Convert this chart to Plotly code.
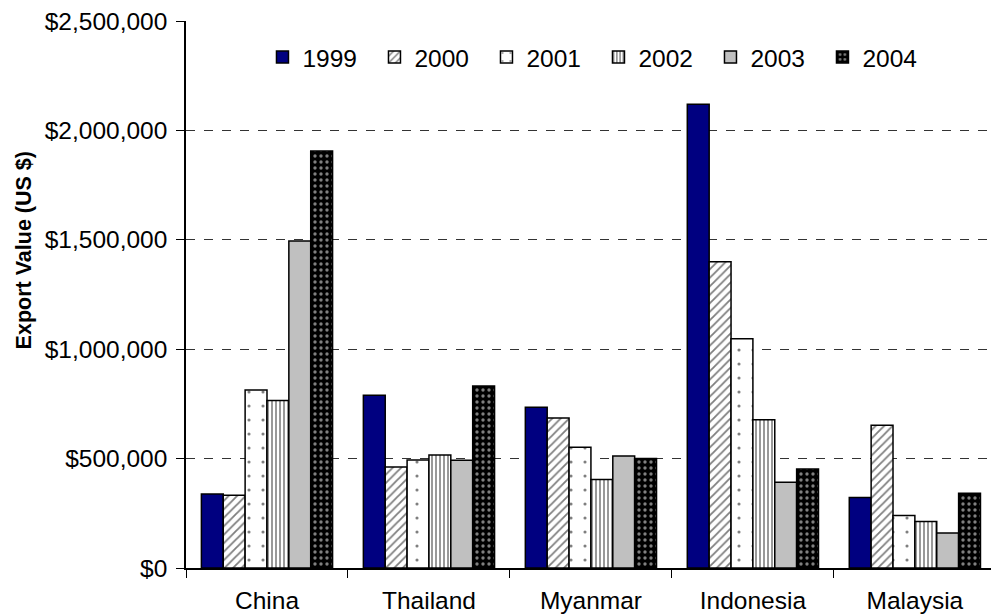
import plotly.graph_objects as go

countries = ["China", "Thailand", "Myanmar", "Indonesia", "Malaysia"]
years = ["1999", "2000", "2001", "2002", "2003", "2004"]
v1999 = [338000, 790000, 735000, 2120000, 322000]
v2000 = [333000, 462000, 685000, 1400000, 652000]
v2001 = [813000, 494000, 552000, 1048000, 240000]
v2002 = [765000, 516000, 405000, 678000, 213000]
v2003 = [1494000, 493000, 512000, 392000, 160000]
v2004 = [1906000, 832000, 500000, 452000, 342000]
series = [v1999, v2000, v2001, v2002, v2003, v2004]
y_title = "Export Value (US $)"

styles = [
    dict(color="#000080"),
    dict(color="white", pattern=dict(shape="/", fgcolor="black", bgcolor="white", size=6, solidity=0.3)),
    dict(color="white", pattern=dict(shape=".", fgcolor="black", bgcolor="white", size=14, solidity=0.04)),
    dict(color="white", pattern=dict(shape="|", fgcolor="black", bgcolor="white", size=4, solidity=0.4)),
    dict(color="#C0C0C0"),
    dict(color="black", pattern=dict(shape=".", fgcolor="white", bgcolor="black", size=6, solidity=0.25)),
]

FONT = "Liberation Sans, Arial, sans-serif"
fig = go.Figure()
for y, vals, st in zip(years, series, styles):
    fig.add_trace(go.Bar(
        name=y, x=countries, y=vals,
        marker=dict(line=dict(color="black", width=1.5), **st),
    ))

fig.update_layout(
    width=991, height=615,
    margin=dict(l=186, r=0, t=21, b=47, autoexpand=False),
    paper_bgcolor="white", plot_bgcolor="white",
    barmode="group", bargap=0.19, bargroupgap=0,
    font=dict(family=FONT, size=24.5, color="black"),
    legend=dict(orientation="h", x=0.095, y=0.934, xanchor="left", yanchor="middle",
                font=dict(size=24.5), entrywidth=67, itemwidth=30,
                bgcolor="rgba(0,0,0,0)"),
    showlegend=True,
)
fig.add_annotation(
    text="<b>" + y_title + "</b>", xref="paper", yref="paper", x=-0.201, y=0.581,
    textangle=-90, showarrow=False, xanchor="center", yanchor="middle",
    font=dict(size=21.5, family=FONT, color="black"),
)
fig.update_yaxes(
    range=[0, 2500000], tickvals=[0, 500000, 1000000, 1500000, 2000000, 2500000],
    tickformat="$,.0f", showgrid=True, gridcolor="#333333", griddash="dash", gridwidth=1,
    showline=True, linecolor="black", linewidth=1.5, ticks="outside", ticklen=8,
    tickcolor="black", zeroline=False, ticklabelstandoff=4,
    tickfont=dict(size=24.5),
)
fig.update_xaxes(
    range=[-0.5, 4.47], showline=True, linecolor="black", linewidth=1.5,
    ticks="outside", tickson="boundaries", ticklen=8, tickcolor="black",
    showgrid=False, tickfont=dict(size=24.5), ticklabelstandoff=10,
)
fig.write_html("out.html")
